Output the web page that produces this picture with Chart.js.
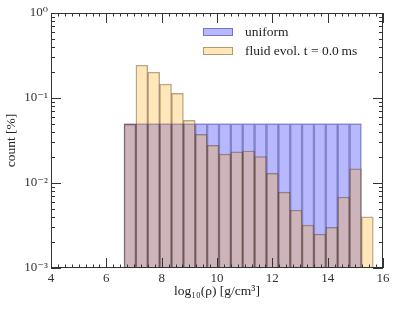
<!DOCTYPE html>
<html>
<head>
<meta charset="utf-8">
<script src="https://cdn.jsdelivr.net/npm/chart.js@4"></script>
<style>
    html, body { margin: 0; padding: 0; background: #fff; }
</style>
</head>
<body>
<canvas id="chart" width="395" height="309"></canvas>
<script>
// Histogram bins in log10(rho) and the fraction of samples per bin.
const binEdges = [6.640, 7.069, 7.498, 7.927, 8.356, 8.785, 9.214, 9.643, 10.072, 10.501, 10.930,
    11.359, 11.788, 12.217, 12.646, 13.075, 13.504, 13.933, 14.362, 14.791, 15.220, 15.649];
const uniformCounts = [0.05, 0.05, 0.05, 0.05, 0.05, 0.05, 0.05, 0.05, 0.05, 0.05,
    0.05, 0.05, 0.05, 0.05, 0.05, 0.05, 0.05, 0.05, 0.05, 0.05];
const fluidCounts = [0.049, 0.243, 0.202, 0.146, 0.1135, 0.0547, 0.0374, 0.0277, 0.0219, 0.0232,
    0.0238, 0.0205, 0.013, 0.0078, 0.0048, 0.0032, 0.0025, 0.0030, 0.0068, 0.0147, 0.0040];
const seriesLabels = ["uniform", "fluid evol. t = 0.0\u2009ms"];

const xTicks = [4, 6, 8, 10, 12, 14, 16];
const yTicks = [1e-3, 1e-2, 1e-1, 1];
const yTickLabels = ["10\u207B\u00B3", "10\u207B\u00B2", "10\u207B\u00B9", "10\u2070"];

const serif = "'Liberation Serif', 'DejaVu Serif', serif";
const inkColor = "#333";

function binPoints(counts) {
    return counts.map((c, i) => ({ x: (binEdges[i] + binEdges[i + 1]) / 2, y: c }));
}

// Matplotlib-style frame: box on all four sides with inward major/minor ticks,
// drawn after the bars so the ticks sit on top of them.
const frameTicks = {
    id: "frameTicks",
    afterDatasetsDraw(chart) {
        const { ctx, chartArea: a, scales: { x, y } } = chart;
        ctx.save();
        ctx.strokeStyle = inkColor;
        ctx.lineWidth = 1;
        ctx.beginPath();
        const seg = (x0, y0, x1, y1) => { ctx.moveTo(x0, y0); ctx.lineTo(x1, y1); };

        for (let k = 0; k <= 48; k++) {
            const v = 4 + k * 0.25;
            const px = Math.round(x.getPixelForValue(v)) + 0.5;
            const len = k % 8 === 0 ? 10 : 3.5;
            seg(px, a.bottom, px, a.bottom - len);
            seg(px, a.top, px, a.top + len);
        }
        for (let e = -3; e <= 0; e++) {
            for (let m = 1; m < 10; m++) {
                const v = m * Math.pow(10, e);
                if (v > 1) break;
                const py = Math.round(y.getPixelForValue(v)) + 0.5;
                const len = m === 1 ? 10 : 4;
                seg(a.left, py, a.left + len, py);
                seg(a.right, py, a.right - len, py);
            }
        }
        ctx.stroke();
        ctx.strokeRect(Math.round(a.left) + 0.5, Math.round(a.top) + 0.5,
            Math.round(a.width) - 1, Math.round(a.height) - 1);
        ctx.restore();
    },
};

const insideLegend = {
    id: "insideLegend",
    afterDraw(chart) {
        const { ctx } = chart;
        ctx.save();
        ctx.font = "13.5px " + serif;
        ctx.textBaseline = "middle";
        chart.data.datasets.forEach((ds, i) => {
            const top = 28 + i * 19;
            ctx.fillStyle = ds.backgroundColor;
            ctx.fillRect(203, top, 30, 8);
            ctx.strokeStyle = ds.borderColor;
            ctx.lineWidth = 1;
            ctx.strokeRect(203.5, top + 0.5, 29, 7);
            ctx.fillStyle = "#222";
            ctx.fillText(ds.label, 245, top + 4);
        });
        ctx.restore();
    },
};

new Chart(document.getElementById("chart"), {
    type: "bar",
    data: {
        datasets: [
            {
                label: seriesLabels[0],
                data: binPoints(uniformCounts),
                backgroundColor: "rgba(0, 0, 255, 0.28)",
                borderColor: "rgba(20, 20, 110, 0.4)",
                borderWidth: 0.8,
                order: 2,
            },
            {
                label: seriesLabels[1],
                data: binPoints(fluidCounts),
                backgroundColor: "rgba(255, 165, 0, 0.27)",
                borderColor: "rgba(60, 35, 10, 0.4)",
                borderWidth: 0.8,
                order: 1,
            },
        ],
    },
    options: {
        responsive: false,
        animation: false,
        devicePixelRatio: 1,
        grouped: false,
        barPercentage: 1,
        categoryPercentage: 1,
        layout: { padding: { top: 13, right: 12, left: 0, bottom: 0 } },
        plugins: { legend: { display: false }, tooltip: { enabled: false } },
        scales: {
            x: {
                type: "linear",
                min: 4,
                max: 16,
                offset: false,
                afterBuildTicks: (s) => { s.ticks = xTicks.map((v) => ({ value: v })); },
                afterFit: (s) => { s.height = 41; },
                grid: { display: false, drawTicks: false, offset: false },
                border: { display: false },
                ticks: { font: { family: serif, size: 13 }, color: inkColor, padding: 3, maxRotation: 0, autoSkip: false },
                title: {
                    display: true,
                    text: "log\u2081\u2080(\u03C1) [g/cm\u00B3]",
                    font: { family: serif, size: 13.5 },
                    color: "#222",
                    padding: { top: 0, bottom: 9 },
                },
            },
            y: {
                type: "logarithmic",
                min: 1e-3,
                max: 1,
                afterBuildTicks: (s) => { s.ticks = yTicks.map((v) => ({ value: v })); },
                afterFit: (s) => { s.width = 51; },
                grid: { display: false, drawTicks: false },
                border: { display: false },
                ticks: {
                    font: { family: serif, size: 13 },
                    color: inkColor,
                    padding: 3,
                    autoSkip: false,
                    callback: (v) => yTickLabels[yTicks.indexOf(v)],
                },
                title: {
                    display: true,
                    text: "count [%]",
                    font: { family: serif, size: 13.5 },
                    color: "#222",
                    padding: { top: 3, bottom: 4 },
                },
            },
        },
    },
    plugins: [frameTicks, insideLegend],
});
</script>
</body>
</html>
